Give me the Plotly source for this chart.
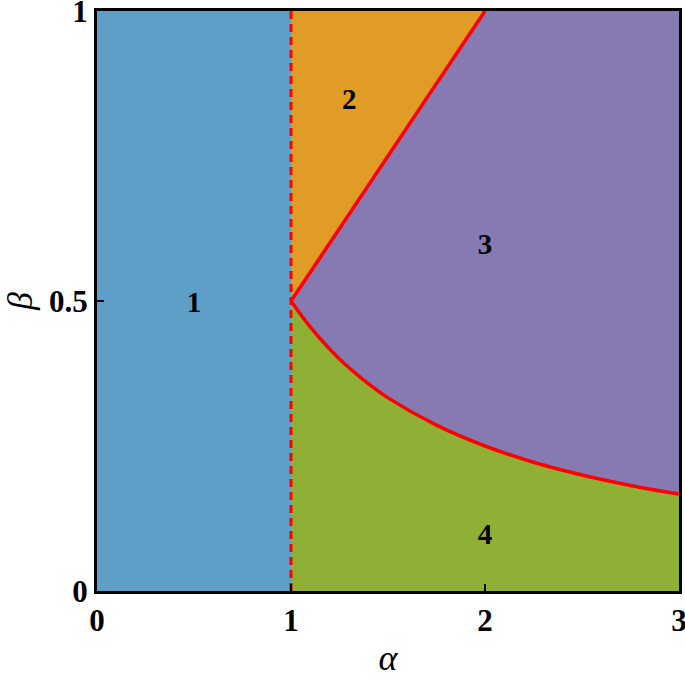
import plotly.graph_objects as go

# --- dados ---
x_range = [0, 3]
y_range = [0, 1]
x_ticks = [0, 1, 2, 3]
y_ticks = [0, 0.5, 1]
y_tick_labels = ["0", "0.5", "1"]

# fronteira vertical (tracejada) em alpha = 1
x_vert = [1, 1]
y_vert = [0, 1]

# fronteira reta entre as regioes 2 e 3
x_reta = [1, 2]
y_reta = [0.5, 1]

# curva entre as regioes 3 e 4
x_curva = [1.0, 1.1, 1.25, 1.4, 1.5, 1.75, 2.0, 2.25, 2.5, 2.75, 3.0]
y_curva = [0.5, 0.455, 0.40, 0.357, 0.333, 0.286, 0.25, 0.222, 0.20, 0.182, 0.167]

# rotulos das regioes
rot_texto = ["1", "2", "3", "4"]
rot_x = [0.5, 1.3, 2.0, 2.0]
rot_y = [0.494, 0.844, 0.594, 0.094]

cores = ["#5E9FC8", "#E09C24", "#8779B2", "#8FB035"]

fig = go.Figure()

def regiao(xs, ys, cor):
    fig.add_trace(go.Scatter(x=xs, y=ys, fill="toself", fillcolor=cor,
                             mode="none", hoverinfo="skip", showlegend=False))

# regiao 1
regiao([x_range[0], x_vert[0], x_vert[1], x_range[0]],
       [y_range[0], y_vert[0], y_vert[1], y_range[1]], cores[0])
# regiao 2
regiao([x_reta[0], x_vert[1], x_reta[1]],
       [y_reta[0], y_vert[1], y_reta[1]], cores[1])
# regiao 3
regiao(x_reta + [x_range[1]] + x_curva[::-1],
       y_reta + [y_range[1]] + y_curva[::-1], cores[2])
# regiao 4
regiao([x_vert[0]] + x_curva + [x_range[1]],
       [y_vert[0]] + y_curva + [y_range[0]], cores[3])

# linhas vermelhas
fig.add_trace(go.Scatter(x=x_vert, y=y_vert, mode="lines",
                         line=dict(color="red", width=3, dash="8px,5px"),
                         showlegend=False, hoverinfo="skip"))
fig.add_trace(go.Scatter(x=x_reta, y=y_reta, mode="lines",
                         line=dict(color="red", width=3.5),
                         showlegend=False, hoverinfo="skip"))
fig.add_trace(go.Scatter(x=x_curva, y=y_curva, mode="lines", line_shape="spline",
                         line=dict(color="red", width=3.5),
                         showlegend=False, hoverinfo="skip"))

fig.add_trace(go.Scatter(x=rot_x, y=rot_y, mode="text", text=rot_texto,
                         textfont=dict(family="Liberation Serif", size=29, color="black",
                                       weight="bold"),
                         showlegend=False, hoverinfo="skip"))

eixo = dict(showgrid=False, zeroline=False, showline=True, linecolor="black",
            linewidth=3, mirror=True, ticks="inside", ticklen=7, tickwidth=2,
            tickcolor="black", ticklabeloverflow="allow", automargin=False,
            tickfont=dict(family="Liberation Serif", size=31, color="black", weight="bold"))

fig.update_layout(
    width=685, height=678,
    margin=dict(l=97, r=6, t=11, b=87),
    plot_bgcolor="white", paper_bgcolor="white",
    xaxis=dict(range=x_range, tickvals=x_ticks,
               title=dict(text="<i>α</i>", font=dict(family="Liberation Serif", size=36,
                                                      color="black"), standoff=17),
               **eixo),
    yaxis=dict(range=y_range, tickvals=y_ticks, ticktext=y_tick_labels,
               title=dict(text="<i>β</i>", font=dict(family="Liberation Serif", size=36,
                                                      color="black"), standoff=10),
               **eixo),
)

# tira a margem padrao do body para a figura ocupar a janela toda
fig.write_html("out.html", config={"displayModeBar": False},
               post_script="document.body.style.margin='0';")
